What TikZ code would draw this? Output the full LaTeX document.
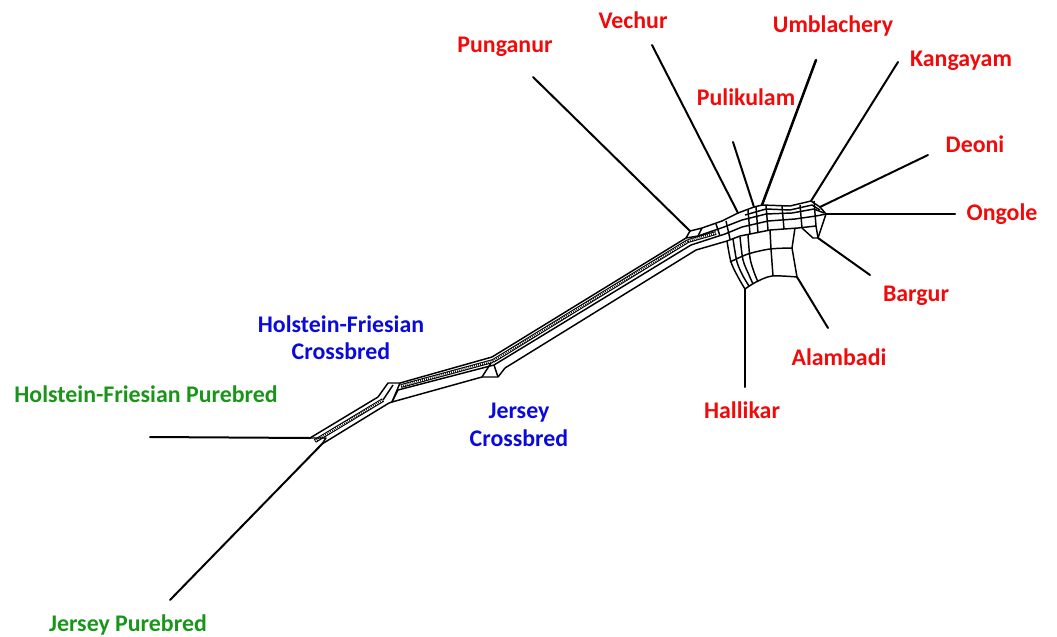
\documentclass[tikz,border=0pt]{standalone}
\usepackage{fontspec}
\setmainfont{Carlito}
\definecolor{lred}{RGB}{240,10,10}
\definecolor{lblue}{RGB}{10,10,220}
\definecolor{lgreen}{RGB}{25,150,25}
\begin{document}
\begin{tikzpicture}[x=0.75pt,y=-0.75pt,
  term/.style={line width=1.5pt,line cap=round},
  net/.style={line width=1.1pt,line join=round},
  hatch/.style={line width=0.8pt,double distance=1.3pt},
  hdots/.style={line width=2.1pt,dash pattern=on 0.5pt off 1pt},
  lab/.style={font=\fontsize{17.9}{20.5}\selectfont\bfseries,align=center,inner sep=0pt},
  redlab/.style={lab,text=lred},
  bluelab/.style={lab,text=lblue},
  greenlab/.style={lab,text=lgreen}]
\useasboundingbox (0,0) rectangle (1057,636);

% terminal ends and junctions
\coordinate (hfp) at (150,437);  \coordinate (hfpJ) at (310,438);
\coordinate (jp) at (170,600);   \coordinate (jpJ) at (322,444);
\coordinate (pun) at (533,77);   \coordinate (punJ) at (690,231);
\coordinate (vec) at (652,45);   \coordinate (vecJ) at (738,213);
\coordinate (pul) at (733,142);  \coordinate (pulJ) at (754,207);
\coordinate (umb) at (816,60);   \coordinate (umbJ) at (762,205);
\coordinate (kan) at (898,62);   \coordinate (kanJ) at (811,201);
\coordinate (deo) at (928,155);  \coordinate (deoJ) at (820,207);
\coordinate (ong) at (955,214);  \coordinate (ongJ) at (826,214);
\coordinate (bar) at (870,275);  \coordinate (barJ) at (818,238);
\coordinate (ala) at (828,328);  \coordinate (alaJ) at (797,277);
\coordinate (hal) at (745,387);  \coordinate (halJ) at (745,289);

% terminal edges
\draw[term] (hfp) -- (hfpJ);
\draw[term] (jp) -- (jpJ);
\draw[term] (pun) -- (punJ);
\draw[term] (vec) -- (vecJ);
\draw[term] (pul) -- (pulJ);
\draw[term,line width=1.9pt] (umb) -- (umbJ);
\draw[term] (kan) -- (kanJ);
\draw[term] (deo) -- (deoJ);
\draw[term] (ong) -- (ongJ);
\draw[term] (bar) -- (barJ);
\draw[term] (ala) -- (alaJ);
\draw[term] (hal) -- (halJ);

% segment A (purebred split to HF crossbred)
\draw[net] (hfpJ) -- (378,397);
\draw[hatch] (315,441) -- (383,400);
\draw[hdots] (315,441) -- (383,400);
\draw[net] (jpJ) -- (389,403);
\draw[net] (hfpJ) -- (326,438) -- (jpJ);
% HF crossbred box
\draw[net] (378,397) -- (388,383) -- (400,383) -- (392,402) -- (389,403);
\draw[net] (383,400) -- (393,385);
\draw[net] (392,402) -- (398,390);

% segment B
\draw[net] (400,383) -- (492,357);
\draw[hatch] (401,386) -- (493,361);
\draw[hdots] (401,386) -- (493,361);
\draw[net] (398,390) -- (494,365);
\draw[net] (392,402) -- (482,377);
% Jersey crossbred box
\draw[net] (482,377) -- (498,377) -- (505,368);
\draw[net] (482,377) -- (491,363);
\draw[net] (494,365) -- (498,377);

% segment C (long spine)
\draw[net] (492,357) -- (686,238);
\draw[hatch] (493,361) -- (688,241);
\draw[hdots] (493,361) -- (688,241);
\draw[net] (494,365) -- (691,245);
\draw[net] (505,368) -- (696,250);

% Punganur box
\draw[net] (686,238) -- (punJ) -- (702,228) -- (698,236) -- cycle;

% into hub
\draw[net] (702,228) -- (722,221) -- (vecJ);
\draw[net] (698,236) -- (724,227) -- (742,220);
\draw[hatch] (688,241) -- (716,233);
\draw[hdots] (688,241) -- (716,233);
\draw[net] (691,245) -- (725,234) -- (742,227);
\draw[net] (696,250) -- (727,241) -- (740,236);
\draw[net] (716,224) -- (720,236);
\draw[net] (726,221) -- (730,239);

% core
\draw[net] (vecJ) -- (pulJ) -- (umbJ) -- (790,206) -- (kanJ) -- (deoJ) -- (ongJ);
\draw[net] (745,215) -- (766,209) -- (790,210) -- (812,205) -- (820,210);
\draw[net] (742,220) -- (766,214) -- (792,213) -- (814,209) -- (824,213);
\draw[net] (742,227) -- (768,221) -- (795,219) -- (816,216) -- (ongJ);
\draw[net] (740,236) -- (770,230) -- (798,228) -- (816,226);
\draw[net] (748,210) -- (750,234);
\draw[net] (756,207) -- (758,233);
\draw[net] (766,205) -- (768,230);
\draw[net] (782,206) -- (784,229);
\draw[net] (800,205) -- (802,228);
\draw[net] (814,201) -- (816,226);
\draw[net] (ongJ) -- (822,226) -- (barJ);
\draw[net] (816,226) -- (barJ);
\draw[net] (802,228) -- (813,238) -- (barJ);

% lower fan
\draw[net] plot[smooth] coordinates {(727,241) (731,262) (738,277) (halJ)};
\draw[net] plot[smooth] coordinates {(733,239) (737,262) (743,276) (749,286)};
\draw[net] plot[smooth] coordinates {(740,237) (743,260) (749,275) (753,284)};
\draw[net] plot[smooth] coordinates {(748,235) (750,258) (754,272) (758,282)};
\draw[net] plot[smooth] coordinates {(730,262) (748,254) (770,249) (792,248)};
\draw[net] plot[smooth] coordinates {(halJ) (756,282) (772,276) (alaJ)};
\draw[net] (770,230) -- (771,249) -- (773,276);
\draw[net] (795,228) -- (792,248) -- (alaJ);

% labels
\node[redlab] (lpun) at (505,47) {Punganur};
\node[redlab] (lvec) at (633,20) {Vechur};
\node[redlab] (lumb) at (833,26) {Umblachery};
\node[redlab] (lkan) at (961,61) {Kangayam};
\node[redlab] (lpul) at (746,97) {Pulikulam};
\node[redlab] (ldeo) at (975,144) {Deoni};
\node[redlab] (long) at (1002,214) {Ongole};
\node[redlab] (lbar) at (916,296) {Bargur};
\node[redlab] (lala) at (839,357) {Alambadi};
\node[redlab] (lhal) at (742,410) {Hallikar};
\node[bluelab] (lhfc) at (341,338) {Holstein-Friesian\\Crossbred};
\node[bluelab] (ljc) at (519,425) {Jersey\\Crossbred};
\node[greenlab] (lhfp) at (146,394) {Holstein-Friesian Purebred};
\node[greenlab] (ljp) at (128,625) {Jersey Purebred};
\end{tikzpicture}
\end{document}
